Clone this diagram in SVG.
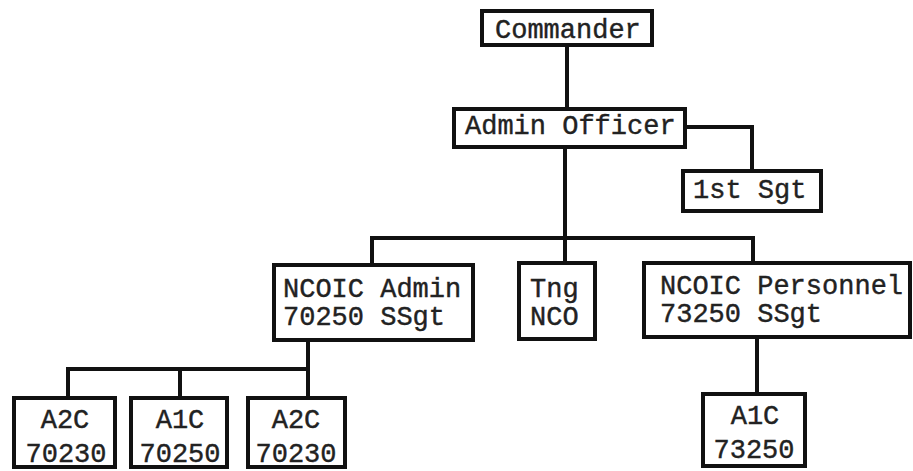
<svg xmlns="http://www.w3.org/2000/svg" width="913" height="471" viewBox="0 0 913 471">
<style>
.box{fill:#fff;stroke:#111;stroke-width:4}
.t{font-family:"Liberation Mono","Courier New",monospace;font-size:27px;fill:#222;stroke:#222;stroke-width:0.4}
.c{text-anchor:middle}
.ln{fill:none;stroke:#111;stroke-width:4;stroke-linecap:square}
</style>
<rect width="913" height="471" fill="#fff"/>
<g id="connectors">
<path class="ln" d="M567 45V108"/>
<path class="ln" d="M685 127H752V170"/>
<path class="ln" d="M565 147V263"/>
<path class="ln" d="M372 238H753V262"/>
<path class="ln" d="M372 238V265"/>
<path class="ln" d="M308 340V369"/>
<path class="ln" d="M68 369H308V397"/>
<path class="ln" d="M68 369V397"/>
<path class="ln" d="M180 369V397"/>
<path class="ln" d="M757 337V393"/>
</g>
<g id="commander">
<rect class="box" x="482" y="11" width="170" height="34"/>
<text class="t" x="495" y="38">Commander</text>
</g>
<g id="admin-officer">
<rect class="box" x="454" y="109" width="231" height="38"/>
<text class="t" x="465" y="134">Admin Officer</text>
</g>
<g id="first-sgt">
<rect class="box" x="683" y="171" width="138" height="40"/>
<text class="t" x="693" y="198">1st Sgt</text>
</g>
<g id="ncoic-admin">
<rect class="box" x="274" y="265" width="199" height="75"/>
<text class="t" x="283" y="297">NCOIC Admin</text>
<text class="t" x="283" y="325">70250 SSgt</text>
</g>
<g id="tng-nco">
<rect class="box" x="519" y="263" width="76" height="76"/>
<text class="t" x="530" y="297">Tng</text>
<text class="t" x="530" y="325">NCO</text>
</g>
<g id="ncoic-personnel">
<rect class="box" x="644" y="263" width="266" height="74"/>
<text class="t" x="660" y="294">NCOIC Personnel</text>
<text class="t" x="660" y="322">73250 SSgt</text>
</g>
<g id="a2c-1">
<rect class="box" x="14" y="398" width="101" height="69"/>
<text class="t c" x="65" y="428">A2C</text>
<text class="t c" x="66" y="462">70230</text>
</g>
<g id="a1c-1">
<rect class="box" x="131" y="398" width="96" height="69"/>
<text class="t c" x="180" y="428">A1C</text>
<text class="t c" x="180" y="462">70250</text>
</g>
<g id="a2c-2">
<rect class="box" x="248" y="398" width="97" height="69"/>
<text class="t c" x="296" y="428">A2C</text>
<text class="t c" x="296" y="462">70230</text>
</g>
<g id="a1c-2">
<rect class="box" x="703" y="394" width="102" height="72"/>
<text class="t c" x="755" y="424">A1C</text>
<text class="t c" x="754" y="458">73250</text>
</g>
</svg>
